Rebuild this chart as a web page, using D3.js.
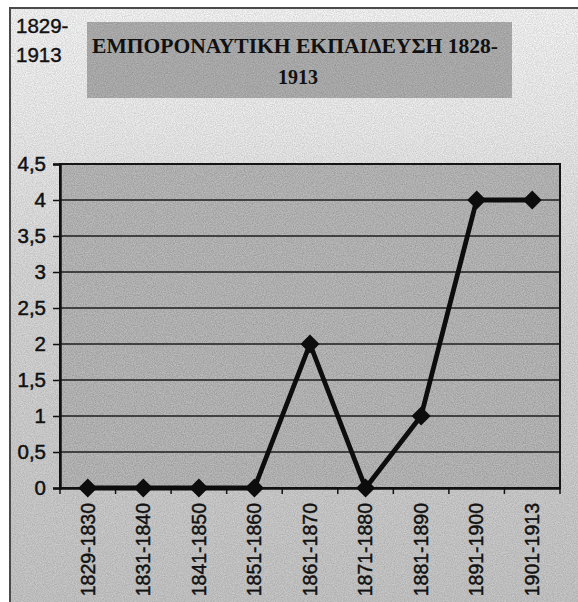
<!DOCTYPE html>
<html>
<head>
<meta charset="utf-8">
<script src="https://cdn.jsdelivr.net/npm/d3@7"></script>
<style>
  html, body { margin: 0; padding: 0; background: #ffffff; }
  svg { display: block; }
</style>
</head>
<body>
<script>
// ---- data ----
const categories = ["1829-1830","1831-1840","1841-1850","1851-1860","1861-1870","1871-1880","1881-1890","1891-1900","1901-1913"];
const values = [0, 0, 0, 0, 2, 0, 1, 4, 4];
const yTickValues = [0, 0.5, 1, 1.5, 2, 2.5, 3, 3.5, 4, 4.5];
const sideLabel = ["1829-", "1913"];
const titleLines = ["ΕΜΠΟΡΟΝΑΥΤΙΚΗ ΕΚΠΑΙΔΕΥΣΗ 1828-", "1913"];

// ---- layout ----
const W = 578, H = 602;
const plot = { left: 60, right: 560, top: 164, bottom: 488 };
const sans = "'Liberation Sans', Arial, sans-serif";

const svg = d3.select("body").append("svg").attr("width", W).attr("height", H);
const defs = svg.append("defs");

const bgGrad = defs.append("linearGradient").attr("id", "bg").attr("x1", 0).attr("x2", 0).attr("y1", 0).attr("y2", 1);
bgGrad.append("stop").attr("offset", "0%").attr("stop-color", "#f7f7f7");
bgGrad.append("stop").attr("offset", "20%").attr("stop-color", "#eeeeee");
bgGrad.append("stop").attr("offset", "45%").attr("stop-color", "#dadada");
bgGrad.append("stop").attr("offset", "100%").attr("stop-color", "#c8c8c8");

const noise = defs.append("filter").attr("id", "noise").attr("x", 0).attr("y", 0).attr("width", "100%").attr("height", "100%");
noise.append("feTurbulence").attr("type", "fractalNoise").attr("baseFrequency", 0.9).attr("numOctaves", 2).attr("seed", 3).attr("result", "t");
noise.append("feColorMatrix").attr("in", "t").attr("type", "matrix")
  .attr("values", "0 0 0 0 0  0 0 0 0 0  0 0 0 0 0  0 0 0 0.6 -0.15");

// background
svg.append("rect").attr("x", 10).attr("y", 8).attr("width", W - 10).attr("height", H - 8).attr("fill", "url(#bg)");
svg.append("rect").attr("x", 10).attr("y", 8).attr("width", W - 10).attr("height", H - 8).attr("filter", "url(#noise)").attr("opacity", 0.4);

// outer border (top and left)
svg.append("path").attr("d", `M10,${H} L10,8 L${W},8`).attr("fill", "none").attr("stroke", "#4a4a4a").attr("stroke-width", 2);

// side label
const side = svg.append("text").attr("font-family", sans).attr("font-size", 20.5).attr("fill", "#111")
  .attr("stroke", "#111").attr("stroke-width", 0.4);
side.selectAll("tspan").data(sideLabel).join("tspan").attr("x", 16).attr("y", (d, i) => 33 + i * 29).text(d => d);

// title box
svg.append("rect").attr("x", 87).attr("y", 22).attr("width", 425).attr("height", 76).attr("fill", "#b2b2b2");
svg.append("rect").attr("x", 87).attr("y", 22).attr("width", 425).attr("height", 76).attr("filter", "url(#noise)").attr("opacity", 0.45);
const title = svg.append("g").attr("font-family", "'Liberation Serif', 'DejaVu Serif', serif").attr("font-weight", "bold").attr("fill", "#111");
title.append("text").attr("x", 92).attr("y", 53).attr("font-size", 22)
  .attr("textLength", 406).attr("lengthAdjust", "spacingAndGlyphs").text(titleLines[0]);
title.append("text").attr("x", 298).attr("y", 84).attr("text-anchor", "middle").attr("font-size", 22)
  .attr("textLength", 40).attr("lengthAdjust", "spacingAndGlyphs").text(titleLines[1]);

// scales
const x = d3.scaleBand().domain(categories).range([plot.left, plot.right]).padding(0);
const y = d3.scaleLinear().domain([0, 4.5]).range([plot.bottom, plot.top]);

// plot area
svg.append("rect").attr("x", plot.left).attr("y", plot.top).attr("width", plot.right - plot.left).attr("height", plot.bottom - plot.top).attr("fill", "#bcbcbc");
svg.append("rect").attr("x", plot.left).attr("y", plot.top).attr("width", plot.right - plot.left).attr("height", plot.bottom - plot.top).attr("filter", "url(#noise)").attr("opacity", 0.5);

// gridlines
svg.append("g").selectAll("line").data(yTickValues.filter(v => v > 0 && v < 4.5)).join("line")
  .attr("x1", plot.left).attr("x2", plot.right).attr("y1", d => y(d)).attr("y2", d => y(d))
  .attr("stroke", "#1e1e1e").attr("stroke-width", 1.5);

// plot border
svg.append("rect").attr("x", plot.left).attr("y", plot.top).attr("width", plot.right - plot.left).attr("height", plot.bottom - plot.top)
  .attr("fill", "none").attr("stroke", "#151515").attr("stroke-width", 2);

// y axis
const yAxis = svg.append("g").attr("transform", `translate(${plot.left},0)`)
  .call(d3.axisLeft(y).tickValues(yTickValues).tickSize(7).tickPadding(7).tickFormat(d => String(d).replace(".", ",")));
yAxis.select(".domain").attr("stroke", "#111").attr("stroke-width", 2.5);
yAxis.selectAll(".tick line").attr("stroke", "#111").attr("stroke-width", 1.5);
yAxis.selectAll("text").attr("font-family", sans).attr("font-size", 20.5).attr("fill", "#111")
  .attr("stroke", "#111").attr("stroke-width", 0.5);

// x axis (labels at centers) and boundary ticks
const xAxis = svg.append("g").attr("transform", `translate(0,${plot.bottom})`)
  .call(d3.axisBottom(x).tickSize(0).tickPadding(0));
xAxis.select(".domain").attr("stroke", "#111").attr("stroke-width", 2.5);
xAxis.selectAll("text")
  .attr("font-family", sans).attr("font-size", 19.5).attr("fill", "#111")
  .attr("stroke", "#111").attr("stroke-width", 0.45)
  .attr("text-anchor", "end").attr("transform", "rotate(-90)").attr("x", -15).attr("y", 0).attr("dy", "0.35em");
const bounds = categories.map(c => x(c)).concat([plot.right]);
svg.append("g").selectAll("line").data(bounds).join("line")
  .attr("x1", d => d).attr("x2", d => d).attr("y1", plot.bottom).attr("y2", plot.bottom + 6)
  .attr("stroke", "#111").attr("stroke-width", 1.5);

// line and markers
const pts = categories.map((c, i) => [x(c) + x.bandwidth() / 2, y(values[i])]);
svg.append("path").attr("d", d3.line()(pts)).attr("fill", "none").attr("stroke", "#0d0d0d").attr("stroke-width", 4.8).attr("stroke-linejoin", "round");
const r = 9.5;
svg.append("g").selectAll("path").data(pts).join("path")
  .attr("d", d => `M${d[0]},${d[1] - r} L${d[0] + r},${d[1]} L${d[0]},${d[1] + r} L${d[0] - r},${d[1]} Z`)
  .attr("fill", "#0d0d0d");
</script>
</body>
</html>
